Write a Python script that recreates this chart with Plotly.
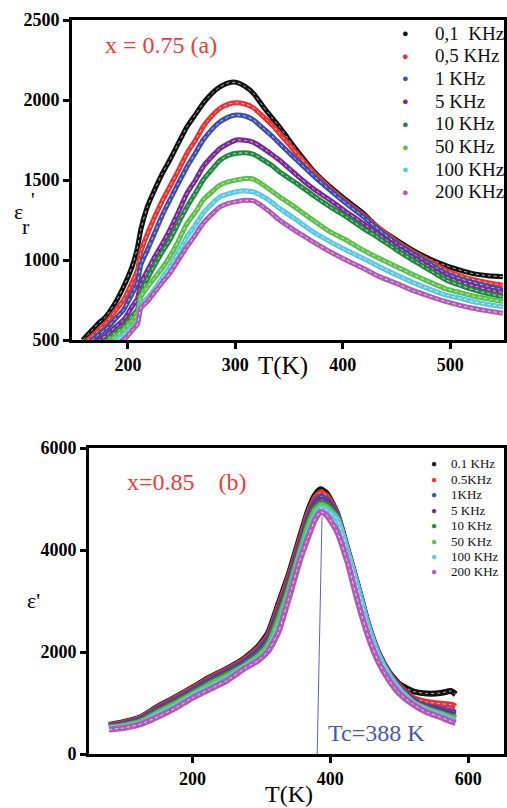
import plotly.graph_objects as go

# ---------------- data: panel (a), x = 0.75 ----------------
T_a = [158, 165, 172, 180, 188, 196, 204, 209, 212, 218, 225, 232, 239, 247, 255,
       263, 270, 278, 286, 294, 301, 309, 317, 326, 334, 341, 349, 357, 372, 388,
       403, 419, 434, 450, 465, 480, 496, 510, 521, 535, 549]
eps_a_01k = [500, 550, 600, 650, 730, 833, 960, 1080, 1190, 1330, 1440, 1540, 1625, 1730, 1833,
             1910, 1979, 2040, 2083, 2108, 2110, 2085, 2040, 1958, 1890, 1833, 1760, 1687, 1562, 1458,
             1375, 1292, 1195, 1125, 1062, 1010, 965, 935, 915, 902, 896]
eps_a_05k = [470, 515, 555, 610, 680, 750, 860, 940, 1050, 1160, 1270, 1370, 1458, 1560, 1667,
             1750, 1833, 1900, 1950, 1975, 1983, 1975, 1950, 1896, 1845, 1792, 1730, 1667, 1552, 1450,
             1365, 1281, 1198, 1115, 1052, 995, 935, 900, 878, 858, 842]
eps_a_1k = [450, 490, 530, 570, 630, 688, 790, 860, 970, 1060, 1170, 1280, 1375, 1480, 1583,
            1670, 1750, 1815, 1865, 1895, 1906, 1900, 1875, 1823, 1775, 1729, 1677, 1625, 1531, 1437,
            1354, 1271, 1187, 1104, 1040, 980, 915, 880, 860, 835, 812]
eps_a_5k = [430, 460, 495, 530, 580, 625, 710, 760, 850, 930, 1020, 1100, 1187, 1300, 1417,
            1500, 1583, 1645, 1698, 1730, 1750, 1748, 1735, 1698, 1660, 1625, 1578, 1531, 1448, 1375,
            1302, 1229, 1156, 1083, 1020, 960, 895, 860, 840, 815, 796]
eps_a_10k = [410, 440, 470, 505, 545, 583, 650, 690, 790, 880, 970, 1050, 1125, 1230, 1333,
             1420, 1500, 1565, 1625, 1655, 1667, 1670, 1660, 1625, 1590, 1552, 1515, 1479, 1406, 1333,
             1271, 1198, 1135, 1062, 1000, 940, 875, 840, 815, 790, 771]
eps_a_50k = [390, 420, 450, 480, 520, 562, 620, 660, 770, 830, 890, 950, 1021, 1120, 1229,
             1300, 1375, 1425, 1469, 1490, 1500, 1510, 1505, 1469, 1430, 1396, 1360, 1323, 1250, 1177,
             1125, 1062, 1010, 958, 910, 865, 820, 795, 775, 757, 740]
eps_a_100k = [370, 395, 420, 450, 490, 531, 580, 610, 720, 760, 820, 890, 958, 1050, 1146,
              1220, 1292, 1350, 1396, 1415, 1427, 1432, 1425, 1396, 1360, 1323, 1287, 1250, 1177, 1115,
              1062, 1010, 958, 906, 860, 820, 781, 760, 740, 722, 708]
eps_a_200k = [350, 380, 410, 440, 470, 500, 560, 600, 700, 740, 800, 860, 917, 1000, 1083,
              1160, 1229, 1285, 1333, 1355, 1365, 1373, 1370, 1333, 1290, 1250, 1213, 1177, 1115, 1052,
              1000, 948, 896, 854, 810, 775, 740, 715, 698, 682, 667]
labels_a = ["0,1  KHz", "0,5 KHz", "1 KHz", "5 KHz", "10 KHz", "50 KHz", "100 KHz", "200 KHz"]

# ---------------- data: panel (b), x = 0.85 ----------------
T_b = [79, 100, 125, 150, 175, 200, 225, 250, 275, 295, 310, 325, 340, 355, 368,
       378, 386, 395, 410, 425, 440, 455, 470, 485, 500, 520, 540, 560, 575, 582]
eps_b_01k = [570, 625, 720, 930, 1110, 1300, 1500, 1670, 1870, 2100, 2380, 2950, 3530, 4210, 4780,
             5080, 5190, 5110, 4715, 4010, 3300, 2540, 1980, 1610, 1370, 1230, 1185, 1195, 1235, 1170]
eps_b_05k = [560, 615, 710, 915, 1095, 1285, 1485, 1655, 1850, 2070, 2330, 2890, 3470, 4150, 4720,
             5020, 5130, 5060, 4700, 3995, 3285, 2525, 1965, 1590, 1340, 1100, 1020, 985, 965, 930]
eps_b_1k = [545, 595, 690, 890, 1065, 1255, 1455, 1625, 1815, 2030, 2280, 2830, 3400, 4080, 4650,
            4950, 5050, 4990, 4680, 3985, 3270, 2510, 1950, 1570, 1310, 1060, 940, 880, 840, 810]
eps_b_5k = [535, 580, 670, 865, 1040, 1230, 1425, 1595, 1780, 1990, 2230, 2770, 3340, 4020, 4590,
            4890, 4990, 4940, 4660, 3975, 3260, 2500, 1940, 1560, 1295, 1040, 910, 840, 790, 770]
eps_b_10k = [525, 565, 650, 840, 1010, 1200, 1395, 1565, 1750, 1950, 2180, 2700, 3280, 3960, 4530,
             4830, 4930, 4890, 4640, 3965, 3250, 2490, 1930, 1550, 1280, 1020, 890, 800, 740, 710]
eps_b_50k = [515, 550, 630, 810, 980, 1170, 1360, 1530, 1720, 1910, 2130, 2620, 3220, 3900, 4460,
             4780, 4880, 4840, 4620, 3955, 3240, 2480, 1920, 1540, 1270, 1010, 880, 790, 720, 690]
eps_b_100k = [500, 530, 605, 770, 940, 1140, 1310, 1480, 1700, 1860, 2060, 2470, 3100, 3810, 4330,
              4670, 4820, 4780, 4600, 3960, 3250, 2490, 1930, 1545, 1265, 1000, 860, 760, 680, 650]
eps_b_200k = [480, 510, 585, 730, 900, 1100, 1270, 1440, 1670, 1830, 2020, 2400, 3060, 3760, 4260,
              4600, 4750, 4680, 4356, 3760, 2980, 2310, 1800, 1450, 1190, 970, 820, 720, 640, 610]
labels_b = ["0.1 KHz", "0.5KHz", "1KHz", "5 KHz", "10 KHz", "50 KHz", "100 KHz", "200 KHz"]

tc_T = [388, 381]
tc_eps = [4650, 0]

colors = ["#111111", "#ee3030", "#3d4fae", "#7a2896", "#1f8a3e", "#5cc04a", "#5ac8e2", "#b25ab8"]

series_a = [eps_a_01k, eps_a_05k, eps_a_1k, eps_a_5k, eps_a_10k, eps_a_50k, eps_a_100k, eps_a_200k]
series_b = [eps_b_01k, eps_b_05k, eps_b_1k, eps_b_5k, eps_b_10k, eps_b_50k, eps_b_100k, eps_b_200k]

SERIF = "Liberation Serif"
W, H = 507, 808

fig = go.Figure()

def add_band(x, y, color, name, xa, ya, width):
    fig.add_trace(go.Scatter(x=x, y=y, mode="lines", xaxis=xa, yaxis=ya, name=name,
                             line=dict(color=color, width=width, shape="spline", smoothing=0.5),
                             showlegend=False))
    fig.add_trace(go.Scatter(x=x, y=y, mode="lines", xaxis=xa, yaxis=ya,
                             line=dict(color="rgba(255,255,255,0.7)", width=1, dash="dot",
                                       shape="spline", smoothing=0.5),
                             showlegend=False, hoverinfo="skip"))

for ys, c, n in zip(series_a, colors, labels_a):
    add_band(T_a, ys, c, n, "x", "y", 5)
for ys, c, n in zip(series_b, colors, labels_b):
    add_band(T_b, ys, c, n, "x2", "y2", 6)

fig.add_trace(go.Scatter(x=tc_T, y=tc_eps, mode="lines", xaxis="x2", yaxis="y2",
                         line=dict(color="#5566bb", width=1), showlegend=False, hoverinfo="skip"))

def px_x(p):
    return p / W

def px_y(p):
    return 1 - p / H

axis_common = dict(showline=True, linecolor="black", linewidth=3, mirror=True,
                   ticks="outside", ticklen=6, tickwidth=2.5, tickcolor="black",
                   showgrid=False, zeroline=False, automargin=False,
                   tickfont=dict(family=SERIF, size=18, color="black", weight="bold"))

fig.update_layout(
    width=W, height=H,
    margin=dict(l=0, r=0, t=0, b=0, autoexpand=False),
    paper_bgcolor="white", plot_bgcolor="white",
    showlegend=False,
    xaxis=dict(domain=[px_x(72), px_x(504)], range=[148, 550], tickvals=[200, 300, 400, 500],
               anchor="y", **axis_common),
    yaxis=dict(domain=[px_y(340), px_y(20)], range=[500, 2500], tickvals=[500, 1000, 1500, 2000, 2500],
               anchor="x", **axis_common),
    xaxis2=dict(domain=[px_x(89), px_x(504)], range=[50, 652], tickvals=[200, 400, 600],
                anchor="y2", **axis_common),
    yaxis2=dict(domain=[px_y(754), px_y(448)], range=[0, 6000], tickvals=[0, 2000, 4000, 6000],
                anchor="x2", **axis_common),
)

def ann(text, x, y, size, color="black", xanchor="center"):
    fig.add_annotation(text=text, x=px_x(x), y=px_y(y), xref="paper", yref="paper",
                       xanchor=xanchor, yanchor="middle", showarrow=False, borderpad=0,
                       font=dict(family=SERIF, size=size, color=color))

# legend rows (bullet + label) for both panels
for i, (n, c) in enumerate(zip(labels_a, colors)):
    yy = 33 + 22.7 * i
    ann("●", 405, yy, 11, c)
    ann(n.replace(" ", "\u00a0"), 434, yy, 19, "#111", "left")
for i, (n, c) in enumerate(zip(labels_b, colors)):
    yy = 464 + 15.4 * i
    ann("●", 434, yy, 10, c)
    ann(n.replace(" ", "\u00a0"), 450, yy, 13, "#111", "left")

ann("x = 0.75 (a)", 104, 45, 24, "#ee3a3a", "left")
ann("T(K)", 283, 366, 25)
ann("ε", 18, 211, 22)
ann("'", 33, 200, 20)
ann("r", 26, 226, 22)

ann("x=0.85\u00a0\u00a0\u00a0 (b)", 126, 482, 24, "#ee3a3a", "left")
ann("Tc=388 K", 327, 733, 24, "#4a5aa8", "left")
ann("T(K)", 289, 794, 24)
ann("ε'", 33, 600, 22)

fig.write_html("out.html", config={"displayModeBar": False},
               post_script="document.body.style.margin='0';document.body.style.overflow='hidden';")
